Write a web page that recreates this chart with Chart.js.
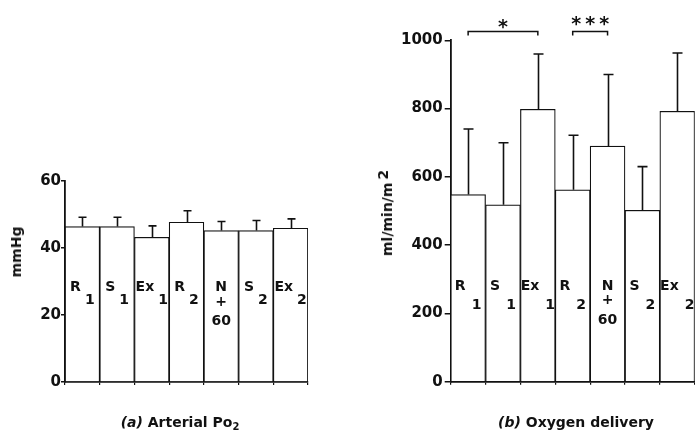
<!DOCTYPE html>
<html><head><meta charset="utf-8">
<script src="https://cdn.jsdelivr.net/npm/chart.js@4.4.0/dist/chart.umd.min.js"></script>
<style>
html,body{margin:0;padding:0;background:#fff;}
#wrap{position:relative;width:695px;height:431px;overflow:hidden;background:#fff;}
canvas{position:absolute;top:0;}
#cA{left:0;}
#cB{left:350px;}
.ttl{position:absolute;font:bold 14px "DejaVu Sans";line-height:14px;color:#111;white-space:nowrap;transform:translateX(-50%);}
.ttl i{font-style:italic;}
.ttl sub{font-size:10px;vertical-align:-3px;line-height:0;}
.ytl{position:absolute;font:bold 14px "DejaVu Sans";line-height:14px;color:#111;white-space:nowrap;transform:translate(-50%,-50%) rotate(-90deg);}
.ytl .sp{position:relative;top:-4px;margin-left:3px;}
</style></head>
<body>
<div id="wrap">
  <canvas id="cA" width="350" height="431"></canvas>
  <canvas id="cB" width="345" height="431"></canvas>
  <div class="ytl" style="left:16px;top:252px;">mmHg</div>
  <div class="ytl" style="left:387px;top:213px;">ml/min/m<span class="sp">2</span></div>
  <div class="ttl" style="left:180px;top:415px;"><i>(a)</i> Arterial Po<sub>2</sub></div>
  <div class="ttl" style="left:576px;top:415px;"><i>(b)</i> Oxygen delivery</div>
</div>
<script>
// ---- data ----
const categories = ['R1', 'S1', 'Ex1', 'R2', 'N+60', 'S2', 'Ex2'];
const barLabelParts = [['R','1'], ['S','1'], ['Ex','1'], ['R','2'], ['N','+','60'], ['S','2'], ['Ex','2']];
const po2Mean  = [46.4, 46.4, 43.2, 47.7, 45.2, 45.2, 45.9];
const po2Upper = [49.2, 49.2, 46.6, 51.1, 47.9, 48.2, 48.7];
const po2Ticks = [0, 20, 40, 60];
const o2Mean  = [548, 518, 798, 562, 690, 502, 792];
const o2Upper = [740, 700, 960, 722, 900, 630, 963];
const o2Ticks = [0, 200, 400, 600, 800, 1000];
const o2Brackets = [[0, 2, '*'], [3, 4, '***']];
const o2BracketLevel = 1026;

const INK = '#111111';
const FONT = '"DejaVu Sans"';

function makeAnnot(cfg) {
  return {
    id: 'annot',
    afterDatasetsDraw(chart) {
      const ctx = chart.ctx, xs = chart.scales.x, ys = chart.scales.y, ca = chart.chartArea;
      ctx.save();
      ctx.strokeStyle = INK; ctx.lineWidth = 1.6; ctx.lineCap = 'butt';
      cfg.mean.forEach((m, i) => {
        const cx = Math.round(xs.getPixelForValue(i)) + 0.5;
        const y1 = ys.getPixelForValue(m), y2 = ys.getPixelForValue(cfg.upper[i]);
        ctx.beginPath();
        ctx.moveTo(cx, y1); ctx.lineTo(cx, y2);
        ctx.moveTo(cx - cfg.cap / 2, y2); ctx.lineTo(cx + cfg.cap / 2, y2);
        ctx.stroke();
      });
      ctx.fillStyle = INK;
      ctx.font = 'bold 14px ' + FONT;
      ctx.textBaseline = 'middle';
      const baseY = ca.bottom - cfg.labelRise;
      barLabelParts.forEach((p, i) => {
        const cx = xs.getPixelForValue(i);
        if (p.length === 3) {
          ctx.textAlign = 'center';
          ctx.fillText(p[0], cx, baseY);
          ctx.fillText(p[1], cx, baseY + cfg.plusDrop);
          ctx.fillText(p[2], cx, baseY + cfg.lineDrop);
        } else {
          const w0 = ctx.measureText(p[0]).width, w1 = ctx.measureText(p[1]).width;
          const sx = cx - (w0 + cfg.gap + w1) / 2;
          ctx.textAlign = 'left';
          ctx.fillText(p[0], sx, baseY);
          ctx.fillText(p[1], sx + w0 + cfg.gap, baseY + cfg.subDrop);
        }
      });
      if (cfg.brackets) {
        const by = Math.round(ys.getPixelForValue(cfg.bracketLevel)) + 0.5;
        ctx.lineWidth = 1.5;
        ctx.font = 'bold 19px ' + FONT;
        ctx.textAlign = 'center';
        ctx.textBaseline = 'alphabetic';
        cfg.brackets.forEach(([a, b, s]) => {
          const x1 = xs.getPixelForValue(a), x2 = xs.getPixelForValue(b);
          ctx.beginPath();
          ctx.moveTo(x1, by + 4); ctx.lineTo(x1, by); ctx.lineTo(x2, by); ctx.lineTo(x2, by + 4);
          ctx.stroke();
          const mid = (x1 + x2) / 2, n = s.length, sp = 14;
          for (let k = 0; k < n; k++) {
            ctx.fillText('*', mid + (k - (n - 1) / 2) * sp, by + (n > 1 ? -1.5 : 1));
          }
        });
      }
      ctx.restore();
    }
  };
}

function makeChart(id, mean, upper, ticks, annotCfg, tickLen, tickPad) {
  return new Chart(document.getElementById(id), {
    type: 'bar',
    data: {
      labels: categories,
      datasets: [{
        data: mean,
        backgroundColor: '#ffffff',
        borderColor: INK,
        borderWidth: 1.2,
        borderSkipped: 'bottom',
        categoryPercentage: 1.0,
        barPercentage: 1.0
      }]
    },
    options: {
      responsive: false,
      animation: false,
      events: [],
      layout: { padding: { left: 0, right: 0, top: 0, bottom: 0 } },
      plugins: { legend: { display: false }, tooltip: { enabled: false }, title: { display: false } },
      scales: {
        x: {
          grid: { display: true, drawOnChartArea: false, offset: true, tickLength: 3, color: INK, lineWidth: 1.2 },
          border: { display: true, color: INK, width: 1.8 },
          ticks: { display: false }
        },
        y: {
          min: ticks[0], max: ticks[ticks.length - 1],
          afterBuildTicks: s => { s.ticks = ticks.map(v => ({ value: v })); },
          grid: { display: true, drawOnChartArea: false, tickLength: tickLen, color: INK, lineWidth: 1.5 },
          border: { display: true, color: INK, width: 1.8 },
          ticks: { color: INK, padding: tickPad, callback: v => String(v),
                   font: { family: 'DejaVu Sans', size: 15, weight: 'bold' } }
        }
      }
    },
    plugins: [makeAnnot(annotCfg)]
  });
}

function fitArea(chart, t) {
  for (let it = 0; it < 2; it++) {
    const ca = chart.chartArea, p = chart.options.layout.padding;
    p.left = Math.max(0, p.left + t.left - ca.left);
    p.top = Math.max(0, p.top + t.top - ca.top);
    p.right = Math.max(0, p.right + ca.right - t.right);
    p.bottom = Math.max(0, p.bottom + ca.bottom - t.bottom);
    chart.update('none');
  }
}

const chartA = makeChart('cA', po2Mean, po2Upper, po2Ticks,
  { mean: po2Mean, upper: po2Upper, cap: 8, labelRise: 95, subDrop: 13, plusDrop: 15, lineDrop: 34, gap: 4 }, 4, 0);
fitArea(chartA, { left: 65, top: 181, right: 308, bottom: 382 });

const chartB = makeChart('cB', o2Mean, o2Upper, o2Ticks,
  { mean: o2Mean, upper: o2Upper, cap: 10, labelRise: 95, subDrop: 19, plusDrop: 14, lineDrop: 34, gap: 6,
    brackets: o2Brackets, bracketLevel: o2BracketLevel }, 6, 2);
fitArea(chartB, { left: 100.7, top: 40.3, right: 344.7, bottom: 381.7 });
</script>
</body></html>
